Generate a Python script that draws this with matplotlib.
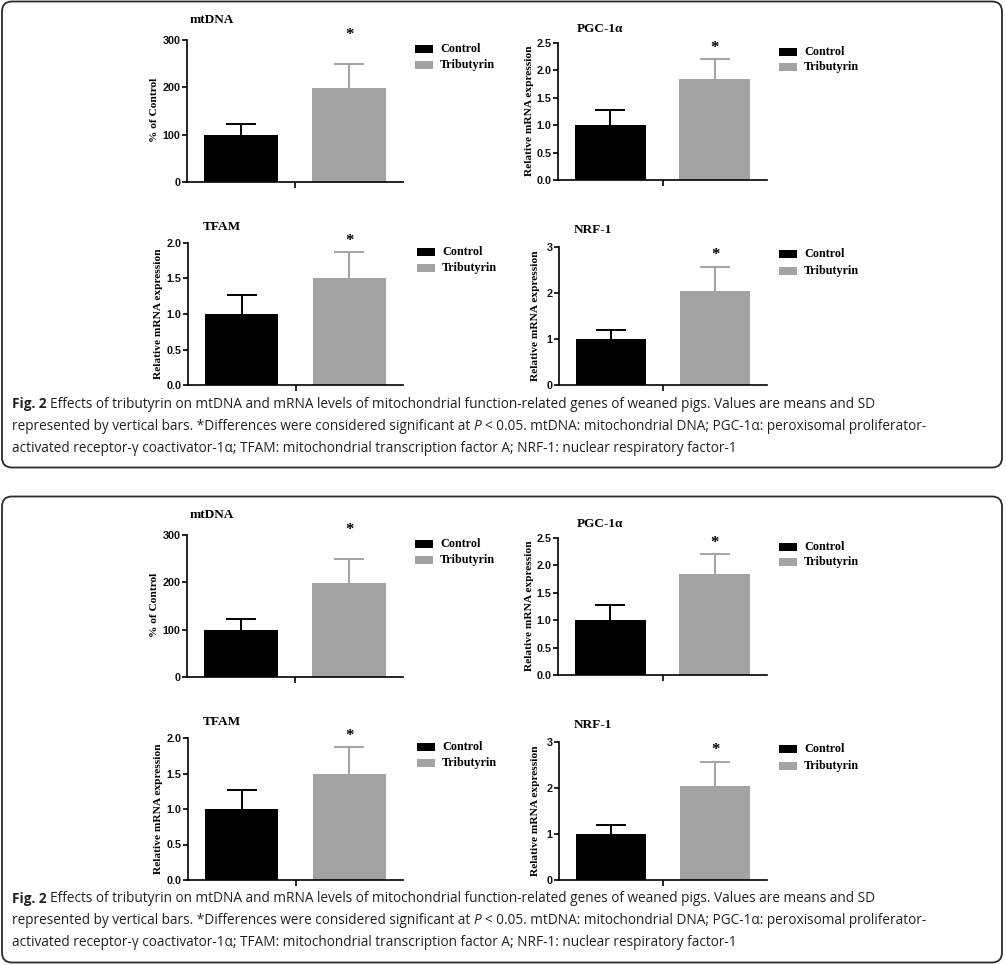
import matplotlib
matplotlib.use('Agg')
import matplotlib.pyplot as plt
from matplotlib.patches import FancyBboxPatch, Rectangle
from matplotlib import font_manager

W, H = 1006, 965
DPI = 100

# ---------------- data ----------------
groups = ['Control', 'Tributyrin']
panel_titles = ['mtDNA', 'PGC-1α', 'TFAM', 'NRF-1']
ylabels = ['% of Control', 'Relative mRNA expression',
           'Relative mRNA expression', 'Relative mRNA expression']
mtdna_mean = [100, 199]
mtdna_sd = [23, 51]
pgc_mean = [1.0, 1.85]
pgc_sd = [0.28, 0.36]
tfam_mean = [1.0, 1.5]
tfam_sd = [0.27, 0.37]
nrf_mean = [1.0, 2.05]
nrf_sd = [0.20, 0.52]
ymax = [300, 2.5, 2.0, 3]
yticks = [[0, 100, 200, 300],
          [0.0, 0.5, 1.0, 1.5, 2.0, 2.5],
          [0.0, 0.5, 1.0, 1.5, 2.0],
          [0, 1, 2, 3]]
ytick_labels = [['0', '100', '200', '300'],
                ['0.0', '0.5', '1.0', '1.5', '2.0', '2.5'],
                ['0.0', '0.5', '1.0', '1.5', '2.0'],
                ['0', '1', '2', '3']]
star_y = [310, 2.41, 2.03, 2.83]
caption_lines = [
    [("Fig. 2", 'bold', 'normal'),
     ("Effects of tributyrin on mtDNA and mRNA levels of mitochondrial function-related genes of weaned pigs. Values are means and SD", 'normal', 'normal')],
    [("represented by vertical bars. *Differences were considered significant at", 'normal', 'normal'),
     ("P", 'normal', 'italic'),
     ("< 0.05. mtDNA: mitochondrial DNA; PGC-1α: peroxisomal proliferator-", 'normal', 'normal')],
    [("activated receptor-γ coactivator-1α; TFAM: mitochondrial transcription factor A; NRF-1: nuclear respiratory factor-1", 'normal', 'normal')],
]

means = [mtdna_mean, pgc_mean, tfam_mean, nrf_mean]
sds = [mtdna_sd, pgc_sd, tfam_sd, nrf_sd]
colors = ['#000000', '#a3a3a3']

# ---------------- fonts ----------------
names = {f.name for f in font_manager.fontManager.ttflist}
SERIF = 'Liberation Serif' if 'Liberation Serif' in names else 'DejaVu Serif'
SANS = 'Liberation Sans' if 'Liberation Sans' in names else 'DejaVu Sans'
CAP = 'Liberation Sans Narrow' if 'Liberation Sans Narrow' in names else 'Open Sans'

# ---------------- layout (pixels, relative to box top) ----------------
axes_px = [(187, 40, 403, 182), (558, 43, 767, 180),
           (188, 243, 403, 385), (559, 247, 767, 385)]
title_px = [(190, 20), (577, 29), (203, 227), (574, 230)]
ylab_px = [(155, 110), (530, 111), (159, 314), (536, 316)]
leg_px = [(415, 49, 65), (779, 52, 67), (417, 252, 268), (779, 254, 271)]
cap_right = [852, 962, 718]
box_offsets = [0, 495]

fig = plt.figure(figsize=(W / DPI, H / DPI), dpi=DPI)
bg = fig.add_axes([0, 0, 1, 1])
bg.set_xlim(0, W)
bg.set_ylim(H, 0)
bg.axis('off')
renderer = fig.canvas.get_renderer()


def measure(txt, size, weight='normal', style='normal'):
    t = bg.text(0, 0, txt, fontsize=size, family=CAP, weight=weight, style=style)
    w = t.get_window_extent(renderer).width
    t.remove()
    return w


def line_width(segs, size):
    sp = measure('x x', size) - measure('xx', size)
    total = 0
    for i, (s, wgt, sty) in enumerate(segs):
        total += measure(s, size, wgt, sty)
        if i < len(segs) - 1:
            total += sp
    return total


base = 10.0
fits = [base * (cap_right[i] - 12) / line_width(caption_lines[i], base)
        for i in range(3)]
cap_size = sum(fits) / len(fits)

for off in box_offsets:
    bg.add_patch(FancyBboxPatch((2, off + 1.5), 1000, 466,
                                boxstyle='round,pad=0,rounding_size=10',
                                fc='white', ec='#2b2b2b', lw=1.3, zorder=0))
    for k in range(4):
        l, t, r, b = axes_px[k]
        t += off
        b += off
        ax = fig.add_axes([l / W, 1 - b / H, (r - l) / W, (b - t) / H])
        ax.patch.set_alpha(0)
        ax.bar([0, 1], means[k], width=0.68, color=colors, zorder=2)
        for i in range(2):
            _, caps, _ = ax.errorbar(i, means[k][i], yerr=[[0], [sds[k][i]]],
                                     fmt='none', ecolor=colors[i],
                                     elinewidth=1.4, capsize=10.5,
                                     capthick=1.4, zorder=1)
            for c in caps:
                yd = c.get_ydata()
                if abs(float(yd[0]) - means[k][i]) < 1e-9:
                    c.set_visible(False)
        ax.set_xlim(-0.5, 1.5)
        ax.set_ylim(0, ymax[k])
        ax.set_yticks(yticks[k])
        ax.set_yticklabels(ytick_labels[k], family=SANS, weight='bold',
                           fontsize=7.8, color='#111111')
        ax.set_xticks([0.5])
        ax.set_xticklabels([''])
        for s in ('top', 'right'):
            ax.spines[s].set_visible(False)
        for s in ('left', 'bottom'):
            ax.spines[s].set_linewidth(1.2)
        ax.tick_params(axis='y', direction='out', length=3.5, width=1.2, pad=1.2)
        ax.tick_params(axis='x', direction='out', length=4, width=1.2)
        ax.text(1, star_y[k], '*', ha='center', va='center', fontsize=12,
                family=SERIF, weight='bold', clip_on=False)
        # title
        tx, ty = title_px[k]
        bg.text(tx, ty + off, panel_titles[k], ha='left', va='center',
                fontsize=9.5, family=SERIF, weight='bold')
        # y label
        yx, yy = ylab_px[k]
        bg.text(yx, yy + off, ylabels[k], ha='center', va='center',
                rotation=90, fontsize=8.2, family=SERIF, weight='bold')
        # legend
        lx, ly1, ly2 = leg_px[k]
        for gi, ly in enumerate((ly1, ly2)):
            bg.add_patch(Rectangle((lx, ly + off - 4), 18, 8,
                                   fc=colors[gi], ec='none'))
            bg.text(lx + 25, ly + off, groups[gi], ha='left', va='center',
                    fontsize=8.7, family=SERIF, weight='bold')

    # caption
    sp = measure('x x', cap_size) - measure('xx', cap_size)
    for li, segs in enumerate(caption_lines):
        x = 12
        y = off + 404 + 22 * li
        for s, wgt, sty in segs:
            tt = bg.text(x, y, s, ha='left', va='center', fontsize=cap_size,
                         family=CAP, weight=wgt, style=sty, color='#231f20')
            x += tt.get_window_extent(renderer).width + sp

fig.savefig('out.png', dpi=DPI)
